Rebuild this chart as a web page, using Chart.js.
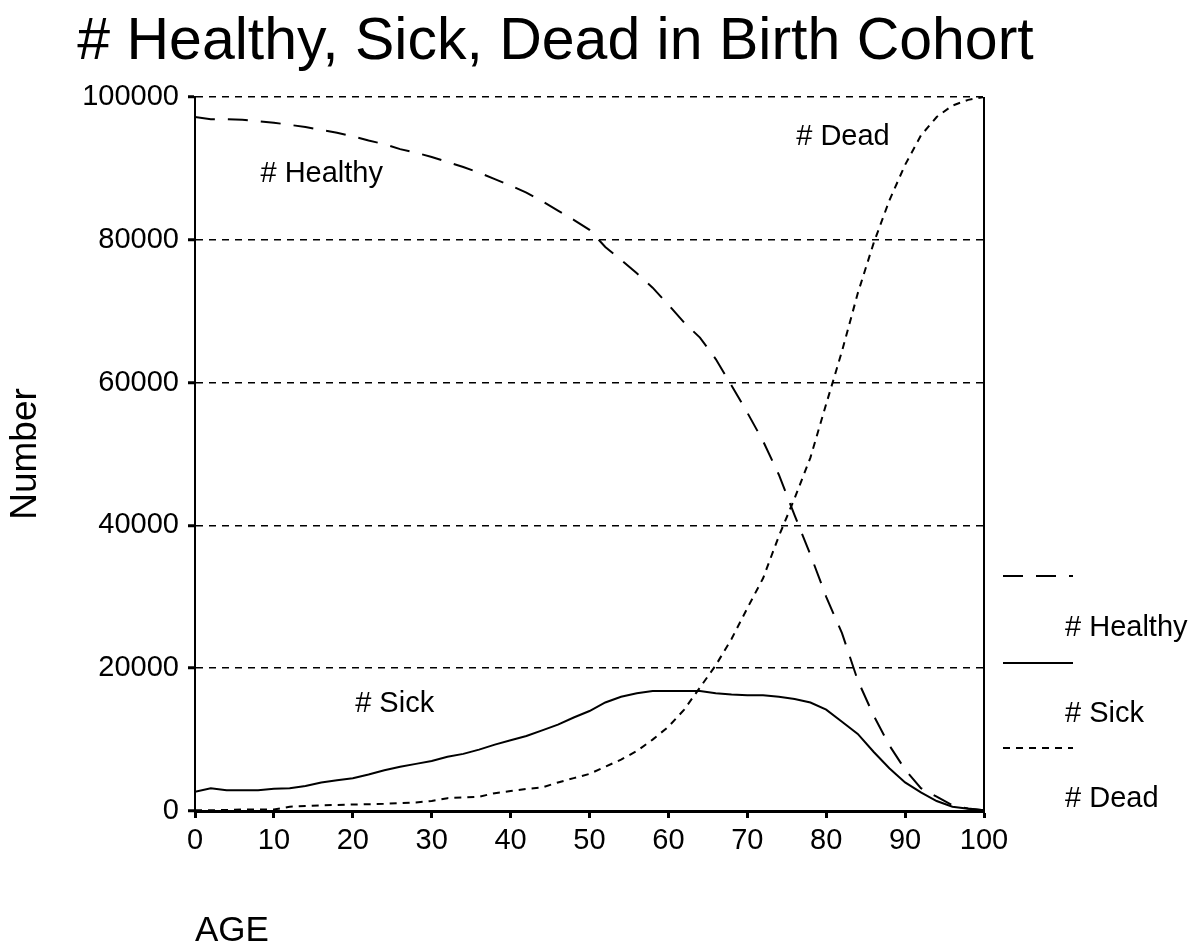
<!DOCTYPE html>
<html>
<head>
<meta charset="utf-8">
<style>
  html, body { margin: 0; padding: 0; background: #ffffff; }
  canvas { display: block; }
</style>
<script src="https://cdn.jsdelivr.net/npm/chart.js@4/dist/chart.umd.min.js"></script>
</head>
<body>
<canvas id="c" width="1201" height="952"></canvas>
<script>
// ---- data ----
const ages = [0,2,4,6,8,10,12,14,16,18,20,22,24,26,28,30,32,34,36,38,40,42,44,46,48,50,52,54,56,58,60,62,64,66,68,70,72,74,76,78,80,82,84,86,88,90,92,94,96,98,100];
const healthy = [97200,96900,96900,96800,96600,96400,96100,95800,95400,95000,94500,93900,93400,92700,92200,91600,90900,90200,89400,88500,87600,86600,85400,84100,82800,81400,79000,77200,75300,73300,70900,68400,66300,63300,59600,55800,51800,47100,41400,35900,30000,24900,18300,13400,9200,5800,3200,2000,800,350,100];
const sick = [2700,3200,2900,2900,2900,3100,3200,3500,4000,4300,4600,5100,5700,6200,6600,7000,7600,8000,8600,9300,9900,10500,11300,12100,13100,14000,15200,16000,16500,16800,16800,16800,16800,16500,16300,16200,16200,16000,15700,15200,14200,12500,10800,8300,6000,4000,2600,1400,600,300,100];
const dead = [100,100,150,200,200,200,600,700,800,850,900,950,1000,1100,1200,1400,1800,1900,2000,2500,2800,3100,3300,4000,4600,5200,6200,7200,8400,10000,11800,14200,17300,20400,24100,28400,32600,38500,43800,49500,57000,64400,72500,79500,85500,90500,94600,97200,98800,99600,100000];
const seriesNames = ['# Healthy', '# Sick', '# Dead'];
const yTickLabels = ['0','20000','40000','60000','80000','100000'];
const xTickLabels = ['0','10','20','30','40','50','60','70','80','90','100'];
const annotationTexts = ['# Healthy', '# Sick', '# Dead'];
const annotationAges = [8.3, 20.3, 76.2];
const annotationValues = [89200, 15000, 94400];

const FONT = '"Liberation Sans", Arial, Helvetica, sans-serif';

function pts(vals) { return ages.map((a, i) => ({ x: a, y: vals[i] })); }

const styles = [
  { borderDash: [20, 13], borderWidth: 2 },
  { borderDash: [], borderWidth: 2 },
  { borderDash: [7, 6], borderWidth: 2 }
];
const values = [healthy, sick, dead];

const datasets = seriesNames.map((n, i) => ({
  label: n,
  data: pts(values[i]),
  borderColor: '#000',
  backgroundColor: '#000',
  borderWidth: styles[i].borderWidth,
  borderDash: styles[i].borderDash,
  pointRadius: 0,
  tension: 0,
  fill: false
}));

const decorPlugin = {
  id: 'decor',
  afterDraw(chart) {
    const ctx = chart.ctx;
    const ca = chart.chartArea;
    const xs = chart.scales.x, ys = chart.scales.y;
    ctx.save();
    // right border
    ctx.strokeStyle = '#000';
    ctx.lineWidth = 2;
    ctx.setLineDash([]);
    ctx.beginPath();
    ctx.moveTo(ca.right, ca.top);
    ctx.lineTo(ca.right, ca.bottom);
    ctx.stroke();
    // annotations
    ctx.fillStyle = '#000';
    ctx.font = '29px ' + FONT;
    ctx.textAlign = 'left';
    ctx.textBaseline = 'middle';
    annotationTexts.forEach((t, i) => {
      ctx.fillText(t, xs.getPixelForValue(annotationAges[i]), ys.getPixelForValue(annotationValues[i]));
    });
    // legend
    const lx0 = ca.right + 19, lx1 = ca.right + 89, tx = ca.right + 81;
    const lineYs = [576, 663, 748];
    const textYs = [628, 714, 799];
    chart.data.datasets.forEach((ds, i) => {
      ctx.strokeStyle = ds.borderColor;
      ctx.lineWidth = ds.borderWidth;
      ctx.setLineDash(ds.borderDash);
      ctx.beginPath();
      ctx.moveTo(lx0, lineYs[i]);
      ctx.lineTo(lx1, lineYs[i]);
      ctx.stroke();
      ctx.setLineDash([]);
      ctx.fillText(ds.label, tx, textYs[i]);
    });
    ctx.restore();
  }
};

new Chart(document.getElementById('c'), {
  type: 'line',
  data: { datasets },
  plugins: [decorPlugin],
  options: {
    responsive: false,
    animation: false,
    devicePixelRatio: 1,
    layout: { padding: { left: 0, right: 90, top: 0, bottom: 0 } },
    plugins: {
      legend: { display: false },
      tooltip: { enabled: false },
      title: {
        display: true,
        text: '# Healthy, Sick, Dead in Birth Cohort',
        color: '#000',
        font: { family: FONT, size: 59, weight: 'normal' },
        padding: { top: 7, bottom: 19.2 }
      }
    },
    scales: {
      x: {
        type: 'linear',
        min: 0, max: 100,
        afterFit(s) { s.height = 141; },
        ticks: {
          stepSize: 10,
          color: '#000',
          font: { family: FONT, size: 29 },
          padding: 6,
          maxRotation: 0,
          callback: (v) => xTickLabels[Math.round(v / 10)]
        },
        grid: { drawOnChartArea: false, drawTicks: true, tickLength: 7, tickWidth: 3, tickColor: '#000', color: '#000' },
        border: { display: true, color: '#000', width: 3 },
        title: {
          display: true, text: 'AGE', align: 'start', color: '#000',
          font: { family: FONT, size: 35 }, padding: { top: 0, bottom: 0 }
        }
      },
      y: {
        type: 'linear',
        min: 0, max: 100000,
        afterFit(s) { s.width = 195; },
        ticks: {
          stepSize: 20000,
          color: '#000',
          font: { family: FONT, size: 29 },
          padding: 9,
          callback: (v) => yTickLabels[Math.round(v / 20000)]
        },
        grid: { color: '#000', lineWidth: 1.5, drawTicks: true, tickLength: 7, tickWidth: 3, tickColor: '#000', tickBorderDash: [] },
        border: { display: true, color: '#000', width: 2, dash: [7, 6] },
        title: {
          display: true, text: 'Number', color: '#000',
          font: { family: FONT, size: 37 }, padding: { top: 4, bottom: 0 }
        }
      },
      y2: {
        type: 'linear',
        position: 'right',
        display: true,
        afterFit(s) { s.width = 127; },
        ticks: { display: false },
        grid: { display: false, drawTicks: false },
        border: { display: false }
      }
    }
  }
});
</script>
</body>
</html>
